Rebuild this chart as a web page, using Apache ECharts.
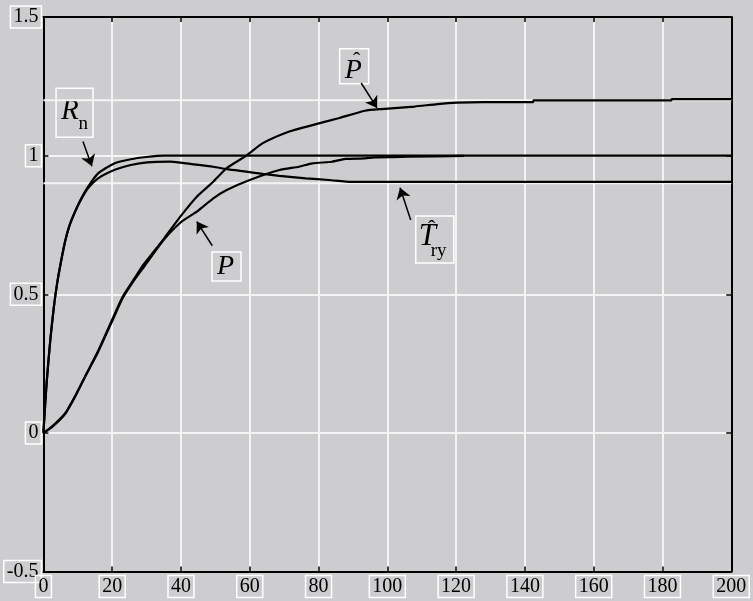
<!DOCTYPE html>
<html><head><meta charset="utf-8">
<script src="https://cdn.jsdelivr.net/npm/echarts@6/dist/echarts.min.js"></script>
<style>html,body{margin:0;padding:0;background:#cdcdcf}#c{width:753px;height:601px}</style>
</head><body><div id="c"></div>
<script>
// ---- data (t, value) ----
const rnT = [0, 0.5, 1.0, 2.0, 3.0, 4.0, 5.0, 6.3, 7.5, 9.1, 11, 13, 15.9, 20.6, 25.4, 30, 35, 200];
const rnV = [0, 0.10, 0.19, 0.335, 0.45, 0.54, 0.61, 0.69, 0.745, 0.795, 0.845, 0.888, 0.936, 0.972, 0.987, 0.995, 1.0, 1.0];

const tryT = [0, 0.5, 1.0, 2.0, 3.0, 4.0, 5.0, 6.3, 7.5, 9.1, 11, 13, 15.9, 20.6, 25.4, 30.2, 37, 42.7, 49.4, 53.3, 59, 63.8, 68.6, 76.3, 83, 89.7, 200];
const tryV = [0, 0.10, 0.19, 0.335, 0.45, 0.54, 0.61, 0.69, 0.745, 0.795, 0.843, 0.883, 0.918, 0.948, 0.966, 0.976, 0.978, 0.970, 0.960, 0.951, 0.942, 0.934, 0.927, 0.918, 0.912, 0.905, 0.905];

const pT = [0, 2.4, 6.3, 9.1, 12, 15.9, 19.7, 23, 26.4, 29.3, 35, 39.8, 44.6, 49.4, 53.3, 60, 68.6, 74.3, 78.2, 83.9, 87.8, 93.5, 96.4, 105.9, 122.3];
const pV = [0, 0.022, 0.07, 0.13, 0.2, 0.292, 0.395, 0.485, 0.551, 0.6, 0.696, 0.758, 0.798, 0.846, 0.876, 0.912, 0.948, 0.96, 0.972, 0.978, 0.988, 0.99, 0.994, 0.996, 0.999];

const phT = [0, 2.4, 6.3, 9.1, 12, 15.9, 19.7, 23, 26.4, 29.3, 35, 39.8, 44.6, 49.4, 53.3, 59, 63.8, 71.5, 78.2, 85.8, 93.5, 98.3, 107.9, 114.6, 120.3, 128, 142.4, 142.5, 182.6, 182.7, 200];
const phV = [0, 0.02, 0.068, 0.128, 0.2, 0.295, 0.4, 0.49, 0.556, 0.61, 0.70, 0.78, 0.852, 0.906, 0.955, 1.0, 1.045, 1.087, 1.11, 1.135, 1.162, 1.168, 1.177, 1.186, 1.191, 1.193, 1.193, 1.199, 1.199, 1.204, 1.204];

const refLevels = [0.9, 1.2];
const xRange = [0, 200, 20];
const yRange = [-0.5, 1.5, 0.5];

// annotation arrows: [tailT, tailV, headT, headV]
const arrowRn = [11.5, 1.051, 14.1, 0.962];
const arrowPh = [92.4, 1.262, 97.0, 1.172];
const arrowTry = [106.8, 0.768, 103.7, 0.884];
const arrowP = [49.1, 0.675, 44.6, 0.762];
// annotation box anchors (top-left, data coords)
const boxRn = [3.68, 1.2433];
const boxP = [49.03, 0.6523];
const boxPh = [86.13, 1.3852];
const boxTry = [108.27, 0.7823];

const zip = (a, b) => a.map((t, i) => [t, b[i]]);
const FONT = '"Liberation Serif", "Times New Roman", serif';

const chart = echarts.init(document.getElementById('c'), null, {renderer: 'canvas'});

const lbl = {
  color: '#000', fontFamily: FONT, fontSize: 20, lineHeight: 20,
  borderColor: '#fff', borderWidth: 1.5, padding: [1, 3, 1, 3]
};
const mainAxis = (extra) => Object.assign({
  type: 'value',
  axisLine: {show: true, onZero: false, lineStyle: {color: '#000', width: 2}},
  axisTick: {show: true, inside: true, length: 5, lineStyle: {color: '#000', width: 1.5}},
  splitLine: {show: true, lineStyle: {color: '#f4f4f4', width: 2}}
}, extra);
const sideAxis = (extra) => Object.assign({
  type: 'value',
  axisLine: {show: true, onZero: false, lineStyle: {color: '#000', width: 2}},
  axisTick: {show: true, inside: true, length: 5, lineStyle: {color: '#000', width: 1.5}},
  axisLabel: {show: false},
  splitLine: {show: false}
}, extra);

const curve = (data) => ({
  type: 'line', data, symbol: 'none', showSymbol: false, z: 5,
  smooth: 0.2,
  lineStyle: {color: '#000', width: 2.2}, silent: true
});
const ref = (lvl) => ({
  type: 'line', data: [[xRange[0], lvl], [xRange[1], lvl]], symbol: 'none', z: 1,
  lineStyle: {color: '#f4f4f4', width: 2}, silent: true
});
const arrow = (a) => ({
  coords: [[a[0], a[1]], [a[2], a[3]]]
});

chart.setOption({
  animation: false,
  backgroundColor: '#cdcdcf',
  grid: {left: 41.5, right: 16, top: 17, bottom: 29.5, containLabel: false},
  xAxis: [
    mainAxis({min: xRange[0], max: xRange[1], interval: xRange[2], position: 'bottom',
      axisLabel: Object.assign({margin: 4, showMinLabel: true, showMaxLabel: true}, lbl)}),
    sideAxis({min: xRange[0], max: xRange[1], interval: xRange[2], position: 'top'})
  ],
  yAxis: [
    mainAxis({min: yRange[0], max: yRange[1], interval: yRange[2], position: 'left',
      axisLabel: Object.assign({margin: 2, showMinLabel: true, showMaxLabel: true}, lbl)}),
    sideAxis({min: yRange[0], max: yRange[1], interval: yRange[2], position: 'right'})
  ],
  series: [
    ...refLevels.map(ref),
    curve(zip(rnT, rnV)),
    curve(zip(tryT, tryV)),
    curve(zip(pT, pV)),
    curve(zip(phT, phV)),
    {
      type: 'lines', coordinateSystem: 'cartesian2d', z: 6, silent: true,
      symbol: ['none', 'arrow'], symbolSize: [7, 11],
      lineStyle: {color: '#000', width: 1.5, opacity: 1},
      data: [arrowRn, arrowPh, arrowTry, arrowP].map(arrow)
    }
  ]
});

// annotation labels
const px = (p) => chart.convertToPixel({gridIndex: 0}, p);
const box = (anchor, w, h, parts) => {
  const [x0, y0] = px(anchor);
  const children = [{
    type: 'rect', shape: {x: x0, y: y0, width: w, height: h},
    style: {fill: 'none', stroke: '#fff', lineWidth: 1.5}
  }];
  parts.forEach(p => children.push({
    type: 'text',
    style: {
      x: x0 + p.dx, y: y0 + p.dy, text: p.text,
      font: (p.italic ? 'italic ' : '') + p.size + 'px ' + FONT,
      fill: '#000', align: p.align || 'left', verticalAlign: 'middle'
    }
  }));
  return {type: 'group', children, z: 10};
};

chart.setOption({
  graphic: [
    box(boxRn, 37, 49, [
      {text: 'R', italic: true, size: 29, dx: 5, dy: 23.5},
      {text: 'n', italic: false, size: 19, dx: 22.4, dy: 36}
    ]),
    box(boxP, 29, 29, [
      {text: 'P', italic: true, size: 28, dx: 5, dy: 15}
    ]),
    box(boxPh, 29, 35, [
      {text: 'P', italic: true, size: 28, dx: 5, dy: 21.7},
      {text: '\u02C6', italic: false, size: 22, dx: 17, dy: 12, align: 'center'}
    ]),
    box(boxTry, 38, 47, [
      {text: 'T', italic: true, size: 31, dx: 3, dy: 21.3},
      {text: '\u02C6', italic: false, size: 22, dx: 16, dy: 13, align: 'center'},
      {text: 'ry', italic: false, size: 19, dx: 15, dy: 35}
    ])
  ]
});
</script>
</body></html>
